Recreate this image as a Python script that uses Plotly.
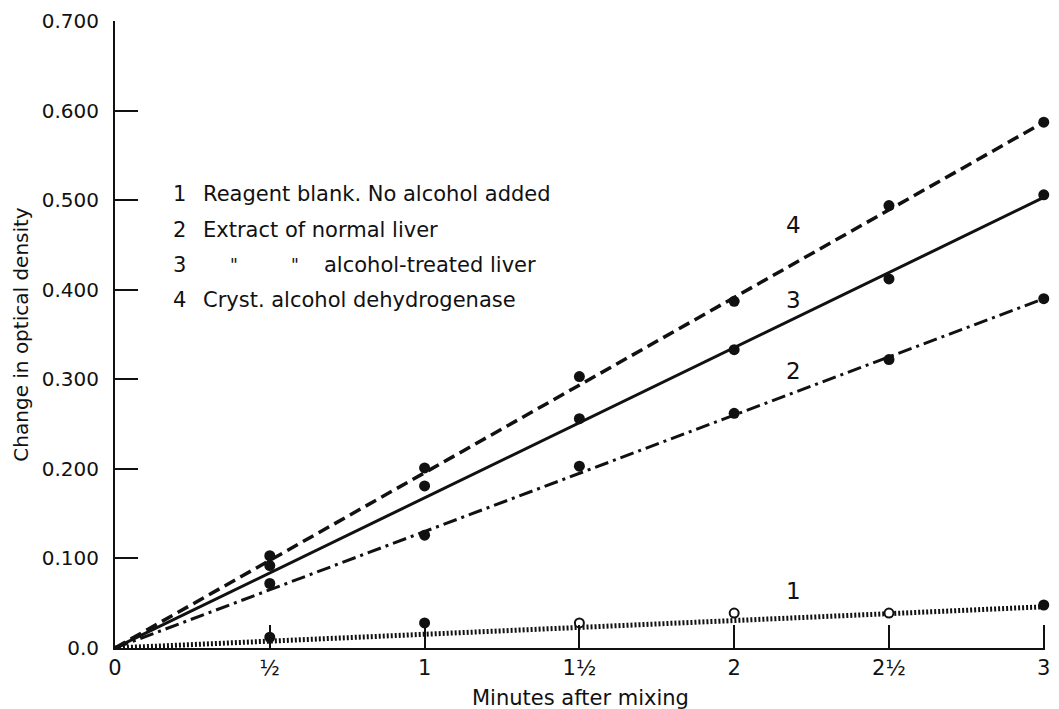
import plotly.graph_objects as go

# ---- data ----
minutes = [0.5, 1.0, 1.5, 2.0, 2.5, 3.0]
s1_blank = [0.012, 0.028, 0.028, 0.039, 0.039, 0.048]
s1_filled = [True, True, False, False, False, True]
s2_normal = [0.072, 0.126, 0.203, 0.262, 0.322, 0.390]
s3_treated = [0.092, 0.181, 0.256, 0.333, 0.412, 0.506]
s4_cryst = [0.103, 0.201, 0.303, 0.387, 0.494, 0.587]

fit_x = [0.0, 3.0]
fit1 = [0.0, 0.046]
fit2 = [0.0, 0.390]
fit3 = [0.0, 0.503]
fit4 = [0.0, 0.587]

x_tickvals = [0, 0.5, 1, 1.5, 2, 2.5, 3]
x_ticktext = ["0", "½", "1", "1½", "2", "2½", "3"]
y_tickvals = [0, 0.1, 0.2, 0.3, 0.4, 0.5, 0.6, 0.7]
y_ticktext = ["0.0", "0.100", "0.200", "0.300", "0.400", "0.500", "0.600", "0.700"]

curve_labels = ["1", "2", "3", "4"]
legend_numbers = ["1", "2", "3", "4"]
legend_texts = ["Reagent blank. No alcohol added",
                "Extract of normal liver",
                None,
                "Cryst. alcohol dehydrogenase"]
legend_row3 = "alcohol-treated liver"

FONT = "DejaVu Sans"
BLACK = "#111111"

fig = go.Figure()

# fitted lines
line_styles = [
    (fit1, dict(color=BLACK, width=5, dash="2px,2px")),
    (fit2, dict(color=BLACK, width=3, dash="14px,5px,3px,5px")),
    (fit3, dict(color=BLACK, width=3)),
    (fit4, dict(color=BLACK, width=3.5, dash="12px,6px")),
]
for fy, ls in line_styles:
    fig.add_trace(go.Scatter(x=fit_x, y=fy, mode="lines", line=ls,
                             showlegend=False, hoverinfo="skip", cliponaxis=False))

# points
for ys in (s2_normal, s3_treated, s4_cryst):
    fig.add_trace(go.Scatter(x=minutes, y=ys, mode="markers",
                             marker=dict(size=11, color=BLACK, opacity=1),
                             showlegend=False, cliponaxis=False))

fig.add_trace(go.Scatter(
    x=minutes, y=s1_blank, mode="markers",
    marker=dict(size=[9 if f else 9 for f in s1_filled],
                color=[BLACK if f else "white" for f in s1_filled],
                opacity=1,
                line=dict(color=BLACK, width=2)),
    showlegend=False, cliponaxis=False))

annotations = []
# curve labels
curve_pos = [(2.19, 0.064), (2.19, 0.309), (2.19, 0.389), (2.19, 0.472)]
for lab, (ax, ay) in zip(curve_labels, curve_pos):
    annotations.append(dict(x=ax, y=ay, text=lab, showarrow=False,
                            font=dict(family=FONT, size=23, color=BLACK)))

# legend block
LEG = 21
row_y = [0.507, 0.467, 0.428, 0.389]
for num, txt, ry in zip(legend_numbers, legend_texts, row_y):
    annotations.append(dict(x=0.207, y=ry, text=num, showarrow=False,
                            font=dict(family=FONT, size=LEG, color=BLACK)))
    if txt is not None:
        annotations.append(dict(x=0.278, y=ry, text=txt, showarrow=False,
                                xanchor="left",
                                font=dict(family=FONT, size=LEG, color=BLACK)))
for dx in (0.383, 0.581):
    annotations.append(dict(x=dx, y=row_y[2], text="\"", showarrow=False,
                            font=dict(family=FONT, size=17, color=BLACK)))
annotations.append(dict(x=0.670, y=row_y[2], text=legend_row3, showarrow=False,
                        xanchor="left",
                        font=dict(family=FONT, size=LEG, color=BLACK)))

# axis titles
annotations.append(dict(xref="paper", yref="paper", x=0.5, y=-0.079,
                        text="Minutes after mixing", showarrow=False,
                        yanchor="middle",
                        font=dict(family=FONT, size=21, color=BLACK)))
annotations.append(dict(xref="paper", yref="paper", x=-0.102, y=0.5,
                        text="Change in optical density", showarrow=False,
                        textangle=-90, xanchor="center",
                        font=dict(family=FONT, size=20, color=BLACK)))

fig.update_layout(
    width=1059, height=709,
    margin=dict(l=115, r=9, t=18, b=61),
    paper_bgcolor="white", plot_bgcolor="white",
    font=dict(family=FONT, color=BLACK),
    annotations=annotations,
    showlegend=False,
)
fig.update_xaxes(range=[0, 3.004], tickvals=x_tickvals, ticktext=x_ticktext,
                 ticks="inside", ticklen=23, tickwidth=2, tickcolor=BLACK,
                 showline=True, linewidth=2, linecolor=BLACK,
                 showgrid=False, zeroline=False,
                 tickfont=dict(family=FONT, size=21, color=BLACK))
fig.update_yaxes(range=[0, 0.7], tickvals=y_tickvals, ticktext=y_ticktext,
                 ticks="inside", ticklen=23, tickwidth=2, tickcolor=BLACK,
                 showline=True, linewidth=2, linecolor=BLACK,
                 showgrid=False, zeroline=False, ticklabelstandoff=10,
                 tickfont=dict(family=FONT, size=20, color=BLACK))

fig.write_html("out.html")
